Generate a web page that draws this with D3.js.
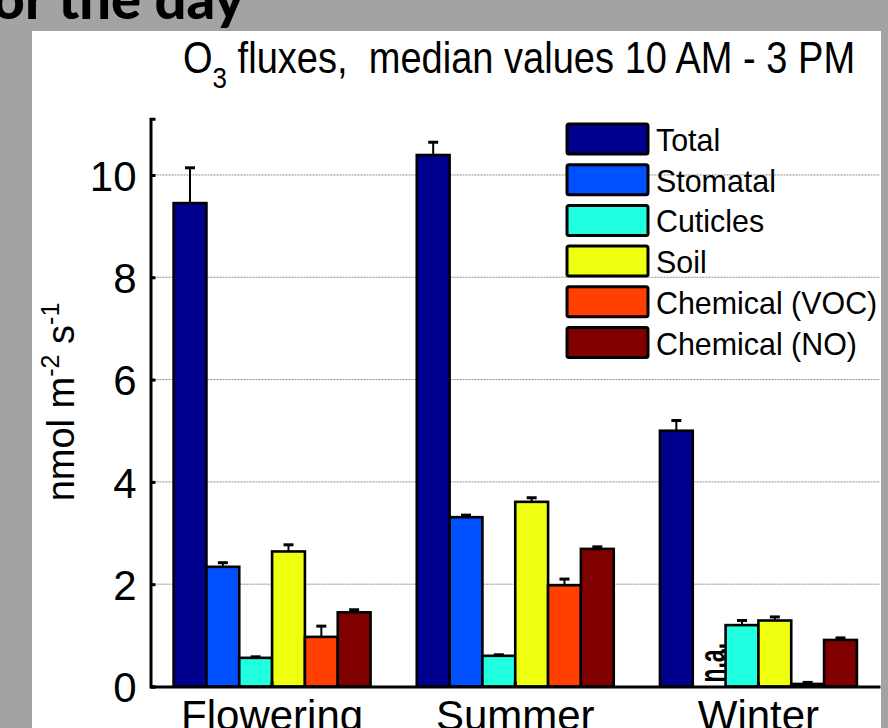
<!DOCTYPE html>
<html>
<head>
<meta charset="utf-8">
<script src="https://cdn.jsdelivr.net/npm/d3@7"></script>
<style>
  body { margin: 0; background: #a3a3a3; }
  text { font-family: "Liberation Sans", Arial, sans-serif; }
</style>
</head>
<body>
<div id="chart"></div>
<script>
// O3 flux partitioning, median values 10 AM - 3 PM
const categories = ["Flowering", "Summer", "Winter"];
const series = ["Total", "Stomatal", "Cuticles", "Soil", "Chemical (VOC)", "Chemical (NO)"];
const colors = ["#00008f", "#0050ff", "#20ffdf", "#efff10", "#ff4000", "#800000"];

const floweringMedian = [9.45, 2.34, 0.56, 2.64, 0.97, 1.45];
const summerMedian = [10.39, 3.31, 0.60, 3.61, 1.98, 2.69];
const winterMedian = [5.00, null, 1.20, 1.29, 0.05, 0.91]; // stomatal not available
const floweringErr = [0.69, 0.08, 0.02, 0.13, 0.21, 0.05];
const summerErr = [0.25, 0.04, 0.02, 0.08, 0.12, 0.04];
const winterErr = [0.20, null, 0.09, 0.07, 0.03, 0.04];

const yTicks = [0, 2, 4, 6, 8, 10];

const medians = [floweringMedian, summerMedian, winterMedian];
const errors = [floweringErr, summerErr, winterErr];

const width = 888, height = 728;

const svg = d3.select("#chart").append("svg")
    .attr("width", width)
    .attr("height", height);

// slide background + white panel
svg.append("rect").attr("width", width).attr("height", height).attr("fill", "#a3a3a3");
svg.append("rect")
    .attr("x", 32).attr("y", 31)
    .attr("width", 849).attr("height", height - 31)
    .attr("fill", "#fff");

svg.append("text")
    .attr("x", 244).attr("y", 19)
    .attr("text-anchor", "end")
    .style("font-family", "Lato, 'Open Sans', sans-serif")
    .style("font-weight", "900")
    .style("font-size", "56px")
    .text("for the day");

const x = d3.scaleBand()
    .domain(categories)
    .range([150.5, 880])
    .paddingInner(0.19)
    .paddingOuter(0.095);

const xSub = d3.scaleBand()
    .domain(series)
    .range([0, x.bandwidth()]);

const y = d3.scaleLinear()
    .domain([0, 11.1])
    .range([686.5, 118.7]);

const color = d3.scaleOrdinal(series, colors);

// grid
svg.append("g")
    .attr("stroke", "#8c8c8c")
    .attr("stroke-width", 1)
    .attr("stroke-dasharray", "2,1")
  .selectAll("line")
  .data(yTicks.filter(d => d > 0))
  .join("line")
    .attr("x1", x.range()[0])
    .attr("x2", x.range()[1])
    .attr("y1", d => y(d))
    .attr("y2", d => y(d));

const rows = [];
categories.forEach((c, i) => {
  series.forEach((s, j) => {
    rows.push({category: c, series: s, value: medians[i][j], err: errors[i][j]});
  });
});

const bars = rows.filter(d => d.value != null);

svg.append("g")
    .attr("stroke", "#000")
    .attr("stroke-width", 2.6)
  .selectAll("rect")
  .data(bars)
  .join("rect")
    .attr("x", d => x(d.category) + xSub(d.series))
    .attr("y", d => y(d.value))
    .attr("width", xSub.bandwidth())
    .attr("height", d => y(0) - y(d.value))
    .attr("fill", d => color(d.series));

// upper error bars
const eb = svg.append("g")
    .attr("stroke", "#000")
  .selectAll("g")
  .data(bars.filter(d => d.err != null))
  .join("g")
    .attr("transform", d => `translate(${x(d.category) + xSub(d.series) + xSub.bandwidth() / 2},0)`);

eb.append("line")
    .attr("stroke-width", 2)
    .attr("y1", d => y(d.value))
    .attr("y2", d => y(d.value + d.err));

eb.append("line")
    .attr("stroke-width", 3)
    .attr("x1", -5).attr("x2", 5)
    .attr("y1", d => y(d.value + d.err))
    .attr("y2", d => y(d.value + d.err));

// n.a. label for missing bars
svg.append("g")
  .selectAll("text")
  .data(rows.filter(d => d.value == null))
  .join("text")
    .attr("transform", d => `translate(${x(d.category) + xSub(d.series) + xSub.bandwidth() / 2 + 16},${y(0) - 4}) rotate(-90) scale(0.62,1)`)
    .style("font-weight", "bold")
    .style("font-size", "37px")
    .text("n.a.");

// axes
const yAxis = svg.append("g")
    .attr("transform", `translate(${x.range()[0]},0)`)
    .call(d3.axisLeft(y).tickValues(yTicks).tickSize(-5).tickSizeOuter(-5).tickPadding(14));

const xAxis = svg.append("g")
    .attr("transform", `translate(0,${y(0)})`)
    .call(d3.axisBottom(x).tickSize(-5).tickSizeOuter(0).tickPadding(14));

[yAxis, xAxis].forEach(a => {
  a.selectAll("path, line").attr("stroke", "#000").attr("stroke-width", 3);
  a.selectAll("text")
      .attr("fill", "#000")
      .style("font-family", "'Liberation Sans', Arial, sans-serif")
      .style("font-size", "42px");
});
yAxis.selectAll("text").attr("dy", "0.36em");

// y label
const yLabel = svg.append("text")
    .attr("transform", "translate(74,402) rotate(-90)")
    .attr("text-anchor", "middle")
    .style("font-size", "38px");
yLabel.append("tspan").text("nmol m");
yLabel.append("tspan").attr("dy", -15).style("font-size", "25px").text("-2");
yLabel.append("tspan").attr("dy", 15).text(" s");
yLabel.append("tspan").attr("dy", -15).style("font-size", "25px").text("-1");

// title, a bit condensed like the original
const title = svg.append("text")
    .attr("transform", "translate(183,73) scale(0.865,1)")
    .style("font-size", "44px")
    .style("white-space", "pre");
title.append("tspan").text("O");
title.append("tspan").attr("dy", 15).style("font-size", "30px").text("3");
title.append("tspan").attr("dy", -15).text(" fluxes,  median values 10 AM - 3 PM");

// legend
const legend = svg.append("g")
  .selectAll("g")
  .data(series)
  .join("g")
    .attr("transform", (d, i) => `translate(567,${124 + i * 40.7})`);

legend.append("rect")
    .attr("width", 81)
    .attr("height", 30)
    .attr("rx", 2)
    .attr("fill", d => color(d))
    .attr("stroke", "#000")
    .attr("stroke-width", 3);

legend.append("text")
    .attr("transform", "translate(89,27) scale(0.95,1)")
    .style("font-size", "32px")
    .text(d => d);

// right edge of the slide panel
svg.append("rect")
    .attr("x", 881).attr("y", 0)
    .attr("width", width - 881).attr("height", height)
    .attr("fill", "#a3a3a3");
</script>
</body>
</html>
